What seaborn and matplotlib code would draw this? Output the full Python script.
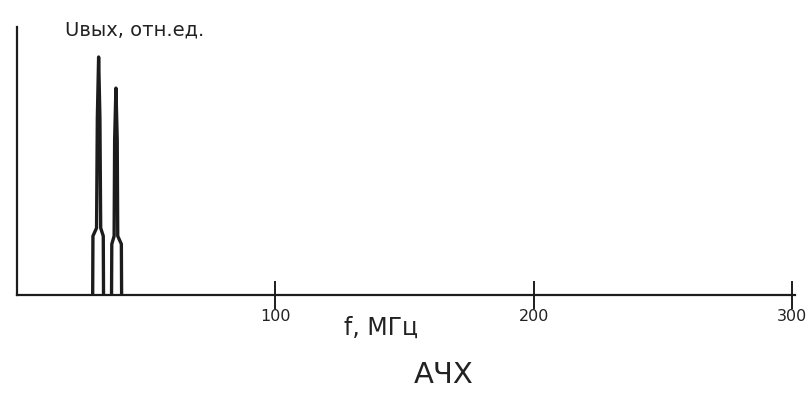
import numpy as np
import pandas as pd
import matplotlib
matplotlib.use('Agg')
import matplotlib.pyplot as plt
import seaborn as sns

# two narrow resonance peaks (frequency in MHz, relative output)
peak1_f = [29.3, 29.4, 30.8, 31.1, 31.6, 32.1, 32.4, 33.4, 33.5]
peak1_u = [0.0, 0.22, 0.25, 0.66, 0.888, 0.66, 0.25, 0.22, 0.0]
peak2_f = [36.6, 36.7, 37.6, 37.8, 38.3, 38.8, 39.0, 40.4, 40.5]
peak2_u = [0.0, 0.19, 0.22, 0.58, 0.772, 0.58, 0.22, 0.19, 0.0]

x_ticks = [100, 200, 300]
x_ticklabels = ['100', '200', '300']

df = pd.concat([
    pd.DataFrame({'f': peak1_f, 'u': peak1_u, 'peak': 'p1'}),
    pd.DataFrame({'f': peak2_f, 'u': peak2_u, 'peak': 'p2'}),
])

sns.set_style('white')
plt.rcParams['font.family'] = ['DejaVu Sans']

fig = plt.figure(figsize=(8.12, 4.05), dpi=100)
ax = fig.add_axes([17 / 812, 110 / 405, 778 / 812, 268 / 405])

for name, grp in df.groupby('peak'):
    sns.lineplot(data=grp, x='f', y='u', sort=False, estimator=None,
                 color='#1c1c1c', linewidth=2.4, ax=ax)

ax.set_xlim(0, 301.2)
ax.set_ylim(0, 1)

for s in ['top', 'right']:
    ax.spines[s].set_visible(False)
for s in ['left', 'bottom']:
    ax.spines[s].set_color('#1c1c1c')
    ax.spines[s].set_linewidth(1.6)

ax.set_xticks(x_ticks)
ax.set_xticklabels(x_ticklabels, fontsize=11.5, color='#222222')
ax.tick_params(axis='x', bottom=True, direction='inout', length=20, width=1.4,
               color='#1c1c1c', pad=0)
ax.set_yticks([])
ax.set_xlabel('')
ax.set_ylabel('')

fig.text(135 / 812, 1 - 30 / 405, 'Uвых, отн.ед.', ha='center', va='center', fontsize=14, color='#222222')
fig.text(381 / 812, 1 - 328 / 405, 'f, МГц', ha='center', va='center', fontsize=17, color='#222222')
fig.text(444 / 812, 1 - 375 / 405, 'АЧХ', ha='center', va='center', fontsize=21, color='#222222')

fig.savefig('out.png', dpi=100)
